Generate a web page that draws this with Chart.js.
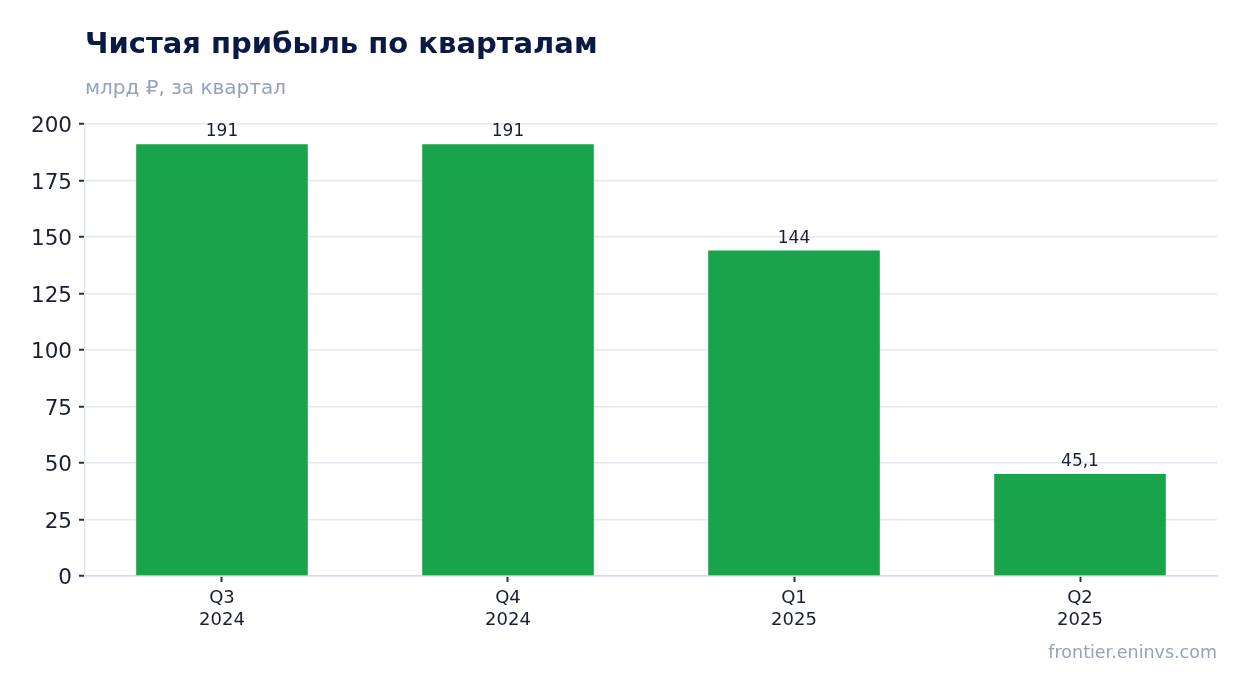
<!DOCTYPE html>
<html>
<head>
<meta charset="utf-8">
<script src="https://cdn.jsdelivr.net/npm/chart.js@4.4.1/dist/chart.umd.min.js"></script>
<style>
  html, body { margin: 0; padding: 0; background: #ffffff; }
  body { width: 1247px; height: 693px; position: relative; overflow: hidden; font-family: "DejaVu Sans", sans-serif; }
  #wrap { position: absolute; left: 0; top: 0; width: 1247px; height: 693px; }
  .txt { position: absolute; line-height: 1; white-space: nowrap; }
  #title { left: 85px; top: 29px; font-size: 29px; font-weight: bold; color: #0b1a44; }
  #subtitle { left: 85px; top: 77px; font-size: 20px; color: #94a3b8; }
  #footer { right: 30px; top: 644px; font-size: 17.5px; color: #94a3b8; }
</style>
</head>
<body>
<div id="wrap"><canvas id="c" width="1247" height="693"></canvas></div>
<div class="txt" id="title">Чистая прибыль по кварталам</div>
<div class="txt" id="subtitle">млрд ₽, за квартал</div>
<div class="txt" id="footer">frontier.eninvs.com</div>
<script>
const categories = ['Q3 2024', 'Q4 2024', 'Q1 2025', 'Q2 2025'];
const values = [191, 191, 144, 45.1];
const yTicks = [0, 25, 50, 75, 100, 125, 150, 175, 200];

const fmt = v => String(v).replace('.', ',');

const barLabels = {
  id: 'barLabels',
  afterDatasetsDraw(chart) {
    const ctx = chart.ctx;
    const meta = chart.getDatasetMeta(0);
    ctx.save();
    ctx.font = '17px "DejaVu Sans"';
    ctx.fillStyle = '#1a1f36';
    ctx.textAlign = 'center';
    ctx.textBaseline = 'alphabetic';
    meta.data.forEach((bar, i) => {
      ctx.fillText(fmt(values[i]), bar.x, bar.y - 8);
    });
    ctx.restore();
  }
};

new Chart(document.getElementById('c'), {
  type: 'bar',
  data: {
    datasets: [{
      data: values.map((v, i) => ({ x: i, y: v })),
      backgroundColor: '#19a34a',
      borderWidth: 0,
      barPercentage: 0.6,
      categoryPercentage: 1.0
    }]
  },
  plugins: [barLabels],
  options: {
    responsive: false,
    animation: false,
    devicePixelRatio: 1,
    layout: { padding: { left: 0, right: 30, top: 124, bottom: 0 } },
    plugins: { legend: { display: false }, tooltip: { enabled: false }, title: { display: false } },
    scales: {
      x: {
        type: 'linear',
        offset: false,
        min: -0.479,
        max: 3.479,
        afterBuildTicks: s => { s.ticks = categories.map((c, i) => ({ value: i })); },
        afterFit: s => { s.height = 117; },
        ticks: {
          callback: (v) => categories[Math.round(v)] ? categories[Math.round(v)].split(' ') : '',
          font: { family: 'DejaVu Sans', size: 18 },
          color: '#1a1f36',
          padding: 6,
          maxRotation: 0
        },
        grid: { offset: false, drawOnChartArea: false, tickColor: '#2b3040', tickLength: 6, tickWidth: 2 },
        border: { display: true, color: '#d5d9e2', width: 1.5 }
      },
      y: {
        min: 0,
        max: 200,
        afterBuildTicks: s => { s.ticks = yTicks.map(v => ({ value: v })); },
        afterFit: s => { s.width = 85; },
        ticks: {
          font: { family: 'DejaVu Sans', size: 21.5 },
          color: '#1a1f36',
          padding: 7,
          labelOffset: 2.5
        },
        grid: { color: '#e5e8ef', lineWidth: 1.5, tickColor: '#2b3040', tickLength: 6, tickWidth: 2 },
        border: { display: true, color: '#e2e6ed', width: 1.5 }
      }
    }
  }
});
</script>
</body>
</html>
